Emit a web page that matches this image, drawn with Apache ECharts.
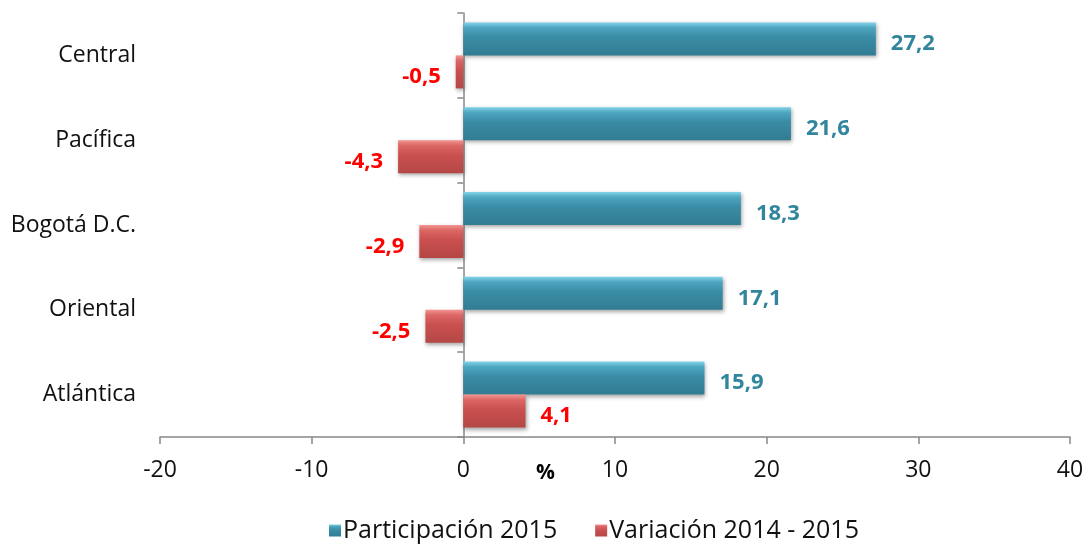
<!DOCTYPE html>
<html>
<head>
<meta charset="utf-8">
<script src="https://cdn.jsdelivr.net/npm/echarts@6/dist/echarts.min.js"></script>
<style>
  html, body { margin: 0; padding: 0; background: #fff; }
  #chart { width: 1088px; height: 544px; }
</style>
</head>
<body>
<div id="chart"></div>
<script>
// regions, top to bottom
const regions = ['Central', 'Pacífica', 'Bogotá D.C.', 'Oriental', 'Atlántica'];
const participacion = [27.2, 21.6, 18.3, 17.1, 15.9];
const variacion = [-0.5, -4.3, -2.9, -2.5, 4.1];
const xTicks = [-20, -10, 0, 10, 20, 30, 40];

const FONT = '"Open Sans", sans-serif';
const fmt = (v) => String(v).replace('.', ',');

const blueFill = new echarts.graphic.LinearGradient(0, 0, 0, 1, [
  { offset: 0, color: '#84d3e8' },
  { offset: 0.16, color: '#4ea6c0' },
  { offset: 0.45, color: '#3a8ca5' },
  { offset: 1, color: '#317c93' },
]);
const redFill = new echarts.graphic.LinearGradient(0, 0, 0, 1, [
  { offset: 0, color: '#f39593' },
  { offset: 0.16, color: '#db6765' },
  { offset: 0.45, color: '#c9504f' },
  { offset: 1, color: '#b44745' },
]);

const chart = echarts.init(document.getElementById('chart'), null, { renderer: 'canvas' });
chart.setOption({
  backgroundColor: '#fff',
  animation: false,
  textStyle: { fontFamily: FONT },
  title: {
    text: '%',
    left: 531,
    top: 458,
    textStyle: { fontFamily: FONT, fontSize: 21, fontWeight: 'bold', color: '#000' },
  },
  legend: {
    top: 513,
    left: 324,
    itemWidth: 12,
    itemHeight: 12,
    itemGap: 38,
    icon: 'rect',
    textStyle: { fontFamily: FONT, fontSize: 25, color: '#111', padding: [0, 0, 0, -3] },
    data: ['Participación 2015', 'Variación 2014 - 2015'],
  },
  grid: {
    left: 160, right: 18, top: 13, bottom: 107,
    containLabel: false,
    outerBoundsMode: 'none',
  },
  xAxis: {
    type: 'value',
    min: xTicks[0],
    max: xTicks[xTicks.length - 1],
    interval: 10,
    axisLine: { show: true, onZero: false, lineStyle: { color: '#888', width: 1.5 } },
    axisTick: { show: true, length: 7, lineStyle: { color: '#888', width: 1.5 } },
    axisLabel: { color: '#111', fontSize: 23, margin: 22, fontFamily: FONT },
    splitLine: { show: false },
  },
  yAxis: [
    {
      // category names, sitting left of the plot
      type: 'category',
      inverse: true,
      data: regions,
      position: 'left',
      axisLine: { show: false, onZero: false },
      axisTick: { show: false },
      axisLabel: { color: '#111', fontSize: 23, margin: 24, fontFamily: FONT, padding: [4, 0, 0, 0] },
    },
    {
      // the vertical line through zero, ticks between regions
      type: 'category',
      inverse: true,
      data: regions,
      position: 'right',
      axisLine: { show: true, onZero: true, lineStyle: { color: '#888', width: 1.5 } },
      axisTick: { show: true, inside: true, length: 6, lineStyle: { color: '#888', width: 1.5 } },
      axisLabel: { show: false },
    },
  ],
  series: [
    {
      name: 'Participación 2015',
      type: 'bar',
      yAxisIndex: 0,
      barWidth: 33,
      barGap: '0%',
      data: participacion,
      itemStyle: {
        color: blueFill,
        shadowBlur: 4,
        shadowOffsetY: 2,
        shadowOffsetX: 1,
        shadowColor: 'rgba(0,0,0,0.35)',
      },
      label: {
        show: true,
        position: 'right',
        distance: 15,
        offset: [0, 5],
        formatter: (p) => fmt(p.value),
        color: '#31859c',
        fontWeight: 'bold',
        fontSize: 22,
        fontFamily: FONT,
      },
    },
    {
      name: 'Variación 2014 - 2015',
      type: 'bar',
      yAxisIndex: 0,
      barWidth: 33,
      barGap: '0%',
      data: variacion.map((v) => ({
        value: v,
        label: { position: v < 0 ? 'left' : 'right' },
      })),
      itemStyle: {
        color: redFill,
        shadowBlur: 4,
        shadowOffsetY: 2,
        shadowOffsetX: 1,
        shadowColor: 'rgba(0,0,0,0.35)',
      },
      label: {
        show: true,
        distance: 15,
        offset: [0, 5],
        formatter: (p) => fmt(p.value),
        color: '#ff0000',
        fontWeight: 'bold',
        fontSize: 22,
        fontFamily: FONT,
      },
    },
  ],
});
</script>
</body>
</html>
